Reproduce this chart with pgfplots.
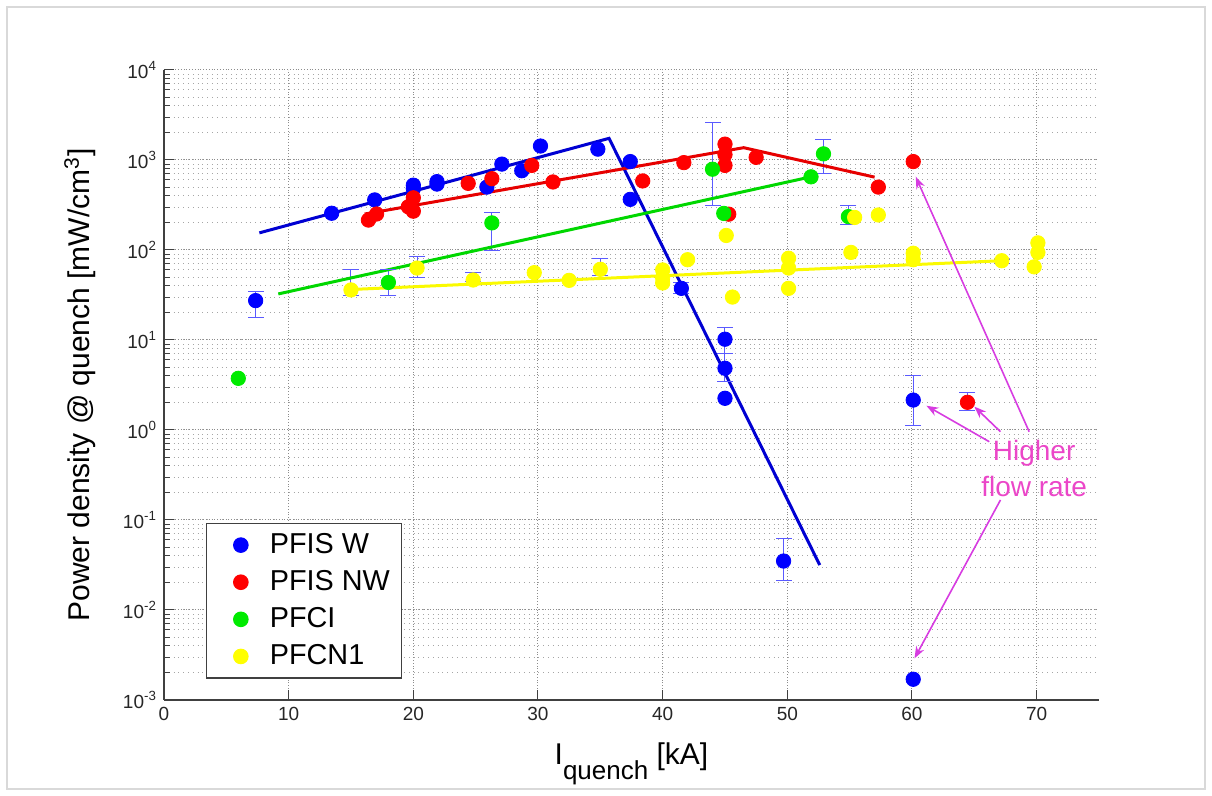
\documentclass[border=0pt]{standalone}
\usepackage{pgfplots}
\pgfplotsset{compat=1.18}
\usepackage{fontspec}
\setmainfont{Liberation Sans}
\usetikzlibrary{arrows.meta}

\definecolor{mblue}{RGB}{0,0,255}
\definecolor{mred}{RGB}{255,0,0}
\definecolor{mgreen}{RGB}{0,235,0}
\definecolor{myellow}{RGB}{255,255,0}
\definecolor{lblue}{RGB}{0,0,210}
\definecolor{lred}{RGB}{230,0,0}
\definecolor{lgreen}{RGB}{0,215,0}
\definecolor{lyellow}{RGB}{250,250,0}
\definecolor{errcol}{RGB}{90,90,255}
\definecolor{magarrow}{RGB}{215,60,225}
\definecolor{magtext}{RGB}{235,70,200}

\pgfplotsset{
  mypt/.style={only marks, mark=*, mark size=3.6pt, mark options={fill=#1, draw=#1},
    legend image code/.code={%
      \path[draw=none, fill=none] (0cm,-0.13cm) rectangle (0.9cm,0.13cm);
      \draw[##1] plot coordinates {(0.46cm,0cm)};}},
}

\begin{document}
\begin{tikzpicture}
\useasboundingbox (0,0) rectangle (606pt,398pt);
\draw[black!15, line width=1pt] (3.5pt,3.5pt) rectangle (602.5pt,394.5pt);
\begin{axis}[
  at={(82pt,48pt)}, anchor=south west,
  scale only axis, width=467.5pt, height=315pt,
  xmin=0, xmax=75, ymin=1e-3, ymax=1e4,
  ymode=log,
  axis lines*=left,
  axis line style={black!75, line width=0.6pt},
  xtick={0,10,...,70},
  minor x tick num=0,
  ytick={1e-3,1e-2,1e-1,1,10,100,1000,10000},
  yticklabels={10\textsuperscript{-3},10\textsuperscript{-2},10\textsuperscript{-1},10\textsuperscript{0},10\textsuperscript{1},10\textsuperscript{2},10\textsuperscript{3},10\textsuperscript{4}},
  /pgf/number format/assume math mode=true,
  tick label style={font=\fontsize{9.5}{11}\selectfont, text=black!85},
  tick style={black!75, line width=0.5pt},
  major tick length=5pt, minor tick length=3pt,
  xmajorgrids, ymajorgrids, yminorgrids,
  major grid style={densely dotted, black!45, line width=0.5pt},
  minor grid style={dotted, black!35, line width=0.5pt},
  xlabel={I\raisebox{-0.5em}{\fontsize{13}{13}\selectfont quench} [kA]},
  xlabel style={at={(axis description cs:0.5,-0.068)}, anchor=north, inner sep=0pt, font=\fontsize{15}{18}\selectfont},
  ylabel={Power density @ quench [mW/cm\textsuperscript{3}]},
  ylabel style={at={(axis description cs:-0.09,0.5)}, anchor=center, inner sep=0pt, font=\fontsize{15}{18}\selectfont},
  legend style={at={(axis description cs:0.045,0.281)}, anchor=north west,
     draw=black!75, fill=white, line width=0.6pt,
     font=\fontsize{14.4}{17}\selectfont, row sep=3pt,
     inner xsep=4pt, inner ysep=3pt},
  legend cell align=left,
  empty line=jump,
  clip=false,
]
% error bars
\addplot[errcol, line width=0.5pt, mark=-, mark size=4pt, mark options={solid, line width=0.5pt}, forget plot] table[x=x, y=y] {
x y
7.35 18
7.35 35

15.0 31.6
15.0 61

18.0 31.6
18.0 60

20.3 50
20.3 85

24.8 45
24.8 56

26.3 98
26.3 260

35.0 52
35.0 81

41.5 33
41.5 43

44.0 310
44.0 2600

52.9 710
52.9 1700

54.9 190
54.9 316

45.0 7.1
45.0 13.7

45.0 3.44
45.0 7.1

60.1 1.12
60.1 4.08

64.45 1.64
64.45 2.6

49.7 0.0215
49.7 0.0626

67.2 70
67.2 78
};

% PFIS W
\addplot[mypt=mblue] table {
7.35 27.4
13.45 256
16.9 360
20.0 525
20.0 480
21.9 575
21.9 540
25.9 500
27.1 900
28.7 760
30.2 1430
34.8 1320
37.4 960
37.4 365
41.5 37.5
45.0 10.2
45.0 4.85
45.0 2.25
49.7 0.035
60.1 2.15
60.1 0.0017
};
\addlegendentry{PFIS W}

% PFIS NW
\addplot[mypt=mred] table {
16.4 215
17.05 251
19.6 302
20.0 380
20.0 270
24.4 550
26.3 620
29.5 870
31.2 570
38.4 585
41.7 935
45.0 1500
45.0 1150
45.0 870
45.3 250
47.5 1070
57.3 500
60.1 960
64.45 2.03
};
\addlegendentry{PFIS NW}

% PFCI
\addplot[mypt=mgreen] table {
5.96 3.75
18.0 43.6
26.3 200
44.0 790
44.9 255
51.9 650
52.9 1170
54.9 235
};
\addlegendentry{PFCI}

% PFCN1
\addplot[mypt=myellow] table {
15.0 36
20.3 63
24.8 46.4
29.7 56
32.5 46
35.0 61
40.0 60
40.0 49
40.0 43
42.0 78
45.1 145
45.6 30
50.1 81
50.1 63
50.1 37.5
55.1 94
55.4 230
57.3 245
60.1 92
60.1 78
67.2 76
70.1 120
70.1 94
69.8 65
};
\addlegendentry{PFCN1}

% fit lines
\addplot[lblue, line width=1.5pt, forget plot] table {
7.65 155
35.7 1740
52.6 0.0316
};
\addplot[lred, line width=1.5pt, forget plot] table {
16.1 251
46.5 1370
57.0 645
};
\addplot[lgreen, line width=1.5pt, forget plot] table {
9.17 32.5
51.9 650
};
\addplot[lyellow, line width=1.5pt, forget plot] table {
15.2 36.5
67.2 76
};

% annotation
\draw[magarrow, line width=0.8pt, -{Stealth[length=6pt, width=4.5pt]}] (axis cs:66.2,0.741) -- (axis cs:61.16,1.86);
\draw[magarrow, line width=0.8pt, -{Stealth[length=6pt, width=4.5pt]}] (axis cs:67.1,0.957) -- (axis cs:65.0,1.82);
\draw[magarrow, line width=0.8pt, -{Stealth[length=6pt, width=4.5pt]}] (axis cs:69.4,0.957) -- (axis cs:60.3,652);
\draw[magarrow, line width=0.8pt, -{Stealth[length=6pt, width=4.5pt]}] (axis cs:67.1,0.167) -- (axis cs:60.2,0.0029);
\node[magtext, align=center, font=\fontsize{14}{18}\selectfont, inner sep=0pt] at (axis cs:69.8,0.378) {Higher\\flow rate};
\end{axis}
\end{tikzpicture}
\end{document}
